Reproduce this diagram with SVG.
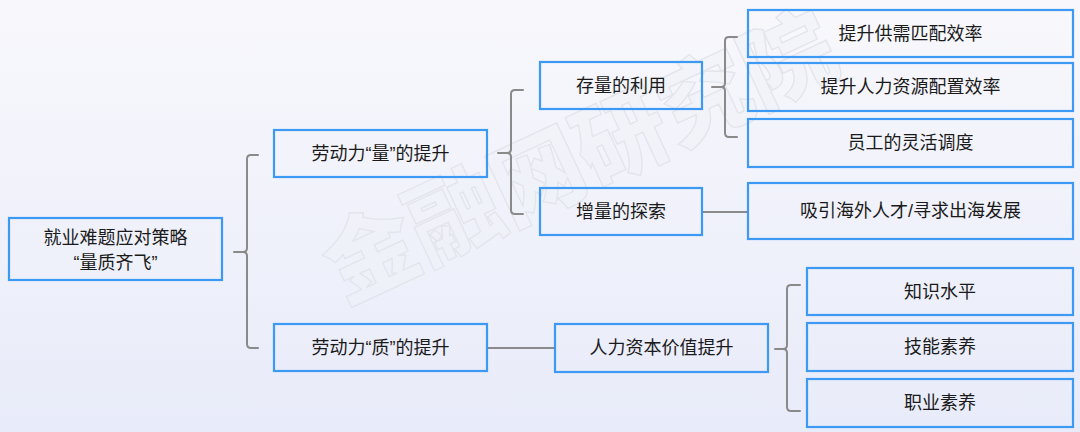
<svg xmlns="http://www.w3.org/2000/svg" width="1080" height="432" viewBox="0 0 1080 432">
<defs>
<linearGradient id="bg" x1="0" y1="0" x2="0" y2="1">
<stop offset="0" stop-color="#f8f8fc"/>
<stop offset="1" stop-color="#e8ebf9"/>
</linearGradient>
<style>
.box{fill:none;stroke:#3c9af5;stroke-width:2.2}
.lbl{font-family:"Liberation Sans","Noto Sans CJK SC",sans-serif;font-size:18px;fill:#1a1a1a;text-anchor:middle}
.con{fill:none;stroke:#8a8a8a;stroke-width:2;stroke-linecap:round;stroke-linejoin:round}
.wm{font-family:"Noto Sans CJK SC",sans-serif;font-weight:900;font-size:92px;fill:#f0f1f7;fill-opacity:0.5;stroke:#e3e4ec;stroke-width:1.3;text-anchor:middle}
</style>
</defs>
<rect width="1080" height="432" fill="url(#bg)"/>
<text class="wm" x="580" y="190" transform="rotate(-25 580 158)">金融网研究院</text>
<g id="connectors">
<path class="con" d="M258,155 H251 Q247,155 247,159 V248 Q247,252 243,252 H234 M243,252 Q247,252 247,256 V344 Q247,348 251,348 H258"/>
<path class="con" d="M523,90 H515 Q511,90 511,94 V149 Q511,153 507,153 H498 M507,153 Q511,153 511,157 V210 Q511,214 515,214 H523"/>
<path class="con" d="M737,37 H729 Q725,37 725,41 V83 Q725,87 721,87 H712 M721,87 Q725,87 725,91 V133 Q725,137 729,137 H737"/>
<path class="con" d="M800,285 H791 Q787,285 787,289 V345 Q787,349 783,349 H775 M783,349 Q787,349 787,353 V407 Q787,411 791,411 H800"/>
<line class="con" x1="702" y1="212" x2="748" y2="212"/>
<line class="con" x1="487" y1="348" x2="555" y2="348"/>
</g>
<g id="root"><rect class="box" x="9" y="218" width="213" height="62"/><text class="lbl" x="115.5" y="244">就业难题应对策略</text><text class="lbl" x="115.5" y="269">“量质齐飞”</text></g>
<g id="n-liang"><rect class="box" x="274" y="130" width="213" height="47"/><text class="lbl" x="380.5" y="160">劳动力“量”的提升</text></g>
<g id="n-zhi"><rect class="box" x="274" y="324" width="213" height="47"/><text class="lbl" x="380.5" y="354">劳动力“质”的提升</text></g>
<g id="n-cunliang"><rect class="box" x="540" y="62" width="162" height="47"/><text class="lbl" x="621" y="92">存量的利用</text></g>
<g id="n-zengliang"><rect class="box" x="540" y="188" width="162" height="47"/><text class="lbl" x="621" y="218">增量的探索</text></g>
<g id="n-gongxu"><rect class="box" x="748" y="10" width="325" height="47"/><text class="lbl" x="910.5" y="40">提升供需匹配效率</text></g>
<g id="n-renli"><rect class="box" x="748" y="63" width="325" height="48"/><text class="lbl" x="910.5" y="93">提升人力资源配置效率</text></g>
<g id="n-yuangong"><rect class="box" x="748" y="119" width="325" height="48"/><text class="lbl" x="910.5" y="149">员工的灵活调度</text></g>
<g id="n-xiyin"><rect class="box" x="748" y="183" width="325" height="56"/><text class="lbl" x="910.5" y="217">吸引海外人才/寻求出海发展</text></g>
<g id="n-ziben"><rect class="box" x="555" y="324" width="213" height="48"/><text class="lbl" x="661.5" y="354">人力资本价值提升</text></g>
<g id="n-zhishi"><rect class="box" x="807" y="268" width="266" height="47"/><text class="lbl" x="940" y="298">知识水平</text></g>
<g id="n-jineng"><rect class="box" x="807" y="323" width="266" height="48"/><text class="lbl" x="940" y="353">技能素养</text></g>
<g id="n-zhiye"><rect class="box" x="807" y="379" width="266" height="48"/><text class="lbl" x="940" y="409">职业素养</text></g>
</svg>
